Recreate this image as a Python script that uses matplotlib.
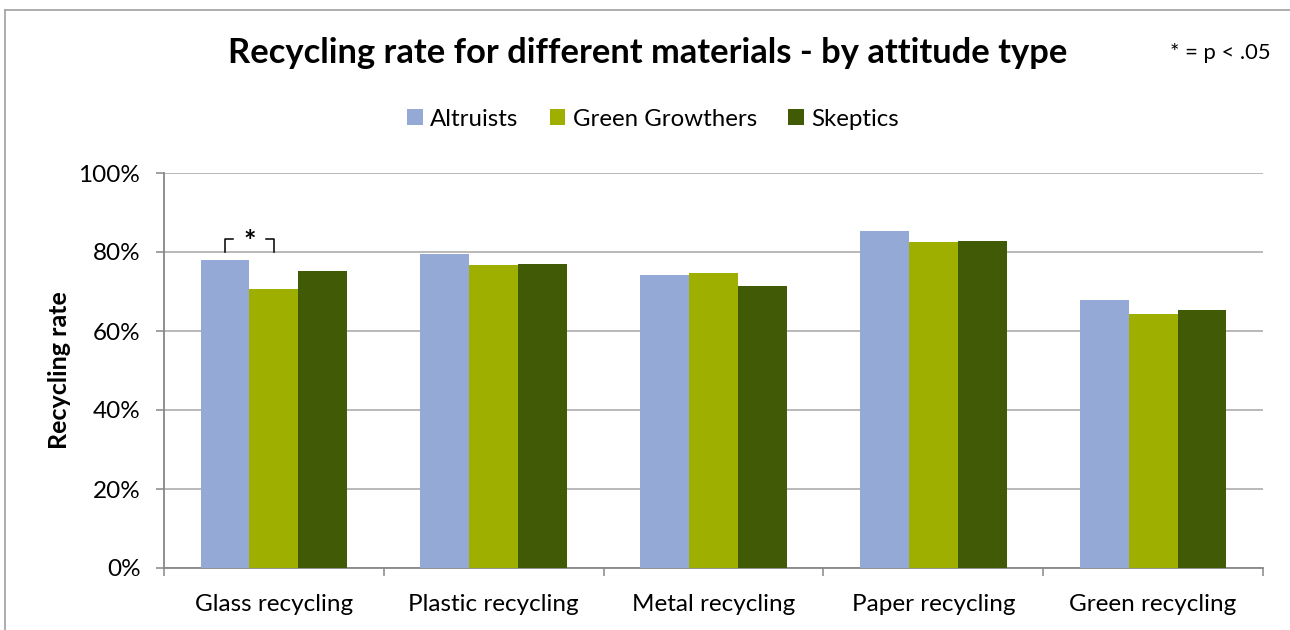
import numpy as np
import matplotlib
matplotlib.use("Agg")
import matplotlib.pyplot as plt
from matplotlib.lines import Line2D
from matplotlib.patches import Patch

plt.rcParams['font.family'] = ['Lato', 'DejaVu Sans']

categories = ["Glass recycling", "Plastic recycling", "Metal recycling",
              "Paper recycling", "Green recycling"]
series_names = ["Altruists", "Green Growthers", "Skeptics"]
altruists = [77.9, 79.4, 74.1, 85.4, 67.9]
green_growthers = [70.6, 76.8, 74.7, 82.5, 64.4]
skeptics = [75.1, 76.9, 71.4, 82.8, 65.4]
colors = ["#95A9D6", "#9EAF00", "#415A06"]
yticks = [0, 20, 40, 60, 80, 100]
ytick_labels = ["0%", "20%", "40%", "60%", "80%", "100%"]

W, H = 1290, 630
fig = plt.figure(figsize=(W / 100, H / 100), dpi=100)
ax = fig.add_axes([164 / W, 1 - 568 / H, (1263 - 164) / W, (568 - 173) / H])

x = np.arange(len(categories))
bw = 1 / 4.5
for i, (vals, c) in enumerate(zip([altruists, green_growthers, skeptics], colors)):
    ax.bar(x + (i - 1) * bw, vals, width=bw, color=c, zorder=3, linewidth=0)

ax.set_xlim(-0.5, len(categories) - 0.5)
ax.set_ylim(0, 100)
ax.set_yticks(yticks)
ax.set_yticklabels(ytick_labels, fontsize=17.5)
ax.yaxis.grid(True, color="#A6A6A6", linewidth=1.1, zorder=0)
ax.set_axisbelow(True)

# category boundary ticks
ax.set_xticks(np.arange(len(categories) + 1) - 0.5)
ax.set_xticklabels([])
ax.set_xticks(x, minor=True)
ax.set_xticklabels(categories, minor=True, fontsize=17.5)
ax.tick_params(axis='x', which='minor', length=0, pad=18.5)
ax.tick_params(axis='x', which='major', length=6, color="#888888", width=1.1)
ax.tick_params(axis='y', length=6, color="#888888", width=1.1, pad=11)

for s in ["top", "right"]:
    ax.spines[s].set_visible(False)
for s in ["left", "bottom"]:
    ax.spines[s].set_color("#888888")
    ax.spines[s].set_linewidth(1.3)

ax.set_ylabel("Recycling rate", fontsize=18, fontweight='bold')
ax.yaxis.set_label_coords((71 - 164) / (1263 - 164), 0.5)

# significance bracket between Altruists and Green Growthers (Glass)
bx0, bx1 = x[0] - bw, x[0]
ytop, ybot = 83.2, 80.1
stub = 0.036
ax.plot([bx0, bx0, bx0 + stub], [ybot, ytop, ytop], color="black", lw=1.1, zorder=4)
ax.plot([bx1 - stub, bx1, bx1], [ytop, ytop, ybot], color="black", lw=1.1, zorder=4)
ax.text((bx0 + bx1) / 2, ytop - 0.6, "*", ha='center', va='center',
        fontsize=21, fontweight='bold', zorder=4)

# title and note
fig.text(648 / W, 1 - 63 / H, "Recycling rate for different materials - by attitude type",
         ha='center', va='baseline', fontsize=24.8, fontweight='bold')
fig.text(1271 / W, 1 - 53 / H, "* = p < .05", ha='right', va='center', fontsize=15.8)

handles = [Patch(facecolor=c, edgecolor='none') for c in colors]
fig.legend(handles, series_names, loc='center', bbox_to_anchor=(653 / W, 1 - 119 / H),
           ncol=3, frameon=False, fontsize=17.3, handlelength=0.65, handleheight=0.65,
           handletextpad=0.3, columnspacing=1.3)

# chart frame
fig.add_artist(Line2D([4.5 / W, 4.5 / W], [0, 1 - 9.5 / H], color="#A0A0A0", lw=1.2,
                      transform=fig.transFigure))
fig.add_artist(Line2D([4.5 / W, 1], [1 - 9.5 / H, 1 - 9.5 / H], color="#A0A0A0", lw=1.2,
                      transform=fig.transFigure))

fig.savefig("out.png", dpi=100)
